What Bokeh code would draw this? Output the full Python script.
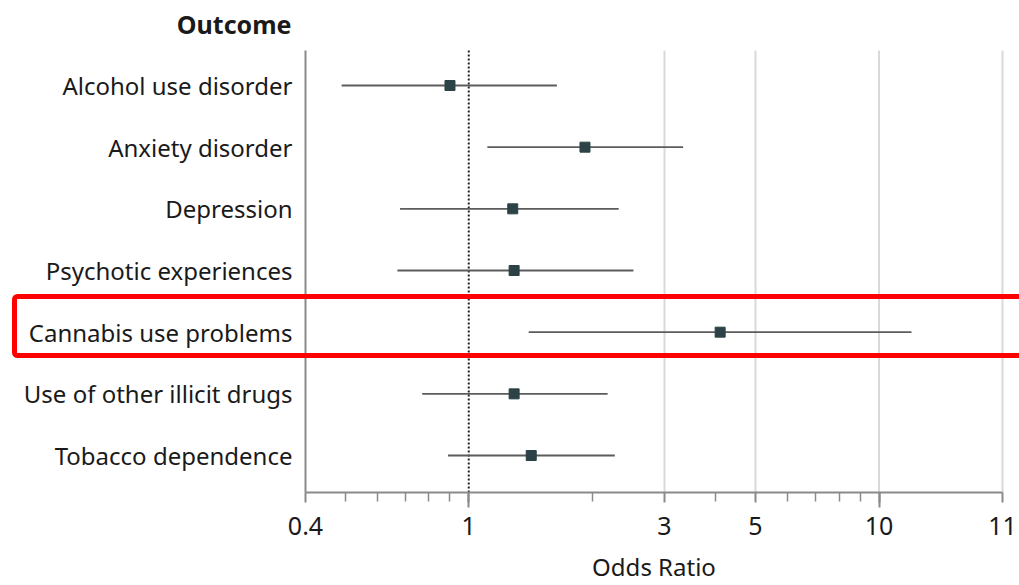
import math
from bokeh.plotting import figure
from bokeh.models import (Range1d, FixedTicker, BoxAnnotation, ColumnDataSource,
                          Label, LogAxis)
from bokeh.embed import file_html
from bokeh.resources import INLINE

# Outcomes, top to bottom, with odds ratios and 95% confidence limits
outcomes = [
    "Alcohol use disorder",
    "Anxiety disorder",
    "Depression",
    "Psychotic experiences",
    "Cannabis use problems",
    "Use of other illicit drugs",
    "Tobacco dependence",
]
odds_ratio = [0.90, 1.92, 1.28, 1.29, 4.10, 1.29, 1.42]
ci_low = [0.49, 1.11, 0.68, 0.67, 1.40, 0.77, 0.89]
ci_high = [1.64, 3.33, 2.32, 2.52, 12.0, 2.18, 2.27]

# Log-scale axis ticks
major_ticks = [0.4, 1, 3, 5, 10, 20]
major_labels = ["0.4", "1", "3", "5", "10", "11"]
long_ticks = [1, 10]
minor_ticks = [0.5, 0.6, 0.7, 0.8, 0.9, 2, 4, 6, 7, 8, 9]
grid_ticks = [3, 5, 10, 20]

# page geometry (pixels)
W, H = 1019, 585
AXIS_LEFT_PX, AXIS_RIGHT_PX = 305, 1002
AXIS_TOP_PX, AXIS_BOTTOM_PX = 50, 492
FIRST_ROW_PX, ROW_STEP_PX = 85, 61.67

FONT = "Noto Sans"
TEXT = "#1a1a1a"
AXIS = "#8a8a8a"

# The frame covers the whole canvas; axes are pinned inside it so the
# highlight frame and headings can sit in the label column.
lo_v, hi_v = major_ticks[0], major_ticks[-1]
px_per_decade = (AXIS_RIGHT_PX - AXIS_LEFT_PX) / math.log10(hi_v / lo_v)
x_start = lo_v * 10 ** (-AXIS_LEFT_PX / px_per_decade)
x_end = hi_v * 10 ** ((W - AXIS_RIGHT_PX) / px_per_decade)

def row_at(px):
    return 1 + (px - FIRST_ROW_PX) / ROW_STEP_PX

y_top, y_bottom = row_at(AXIS_TOP_PX), row_at(AXIS_BOTTOM_PX)

rows = list(range(1, len(outcomes) + 1))
src = ColumnDataSource(dict(y=rows, name=outcomes, or_=odds_ratio, lo=ci_low, hi=ci_high))

p = figure(
    width=W, height=H,
    x_axis_type="log",
    x_range=Range1d(x_start, x_end),
    y_range=Range1d(row_at(H), row_at(0)),
    min_border=0,
    output_backend="svg", toolbar_location=None,
)
p.outline_line_color = None
p.background_fill_color = "white"
p.xgrid.visible = False
p.ygrid.visible = False

# vertical grid lines, bounded to the axis box
p.segment(x0=grid_ticks, x1=grid_ticks, y0=[y_top] * len(grid_ticks),
          y1=[y_bottom] * len(grid_ticks), line_color="#d9d9d9", line_width=2)

# reference line at OR = 1
p.segment(x0=[1], x1=[1], y0=[y_top], y1=[y_bottom],
          line_color="#222222", line_width=2, line_dash="2 2")

# confidence intervals and point estimates
p.segment(x0="lo", x1="hi", y0="y", y1="y", source=src,
          line_color="#5c5c5c", line_width=1.8)
p.scatter(x="or_", y="y", source=src, marker="square", size=10,
          fill_color="#2c4246", line_color="#2c4246")

# x axis
xa = p.xaxis[0]
xa.fixed_location = y_bottom
xa.bounds = (lo_v, hi_v)
xa.ticker = FixedTicker(ticks=major_ticks, minor_ticks=minor_ticks)
xa.major_label_overrides = {t: l for t, l in zip(major_ticks, major_labels)}
xa.axis_line_color = AXIS
xa.axis_line_width = 2
xa.major_tick_line_color = AXIS
xa.major_tick_line_width = 2
xa.major_tick_in = 0
xa.major_tick_out = 10
xa.minor_tick_line_color = AXIS
xa.minor_tick_line_width = 1.5
xa.minor_tick_in = 0
xa.minor_tick_out = 9
xa.major_label_text_font = FONT
xa.major_label_text_font_size = "25px"
xa.major_label_text_color = TEXT
xa.major_label_standoff = 14

# longer ticks at 1 and 10
xa_long = LogAxis(fixed_location=y_bottom, bounds=(lo_v, hi_v),
                  ticker=FixedTicker(ticks=long_ticks, minor_ticks=[]),
                  axis_line_color=None, major_label_text_alpha=0,
                  major_tick_line_color=AXIS, major_tick_line_width=2,
                  major_tick_in=0, major_tick_out=15, minor_tick_line_color=None)
p.add_layout(xa_long, "below")

# y axis: outcome names, pinned at the left end of the odds-ratio axis
ya = p.yaxis[0]
ya.fixed_location = lo_v
ya.bounds = (y_top, y_bottom)
ya.ticker = FixedTicker(ticks=rows)
ya.major_label_overrides = {r: n for r, n in zip(rows, outcomes)}
ya.axis_line_color = AXIS
ya.axis_line_width = 2
ya.major_tick_line_color = None
ya.major_tick_out = 0
ya.major_tick_in = 0
ya.minor_tick_line_color = None
ya.major_label_standoff = 13
ya.major_label_text_font = FONT
ya.major_label_text_font_size = "24px"
ya.major_label_text_color = TEXT

# column heading and axis title
p.add_layout(Label(x=AXIS_LEFT_PX - 14, y=23, x_units="canvas", y_units="canvas",
                   text="Outcome", text_align="right", text_baseline="middle",
                   text_font=FONT, text_font_size="25px", text_font_style="bold",
                   text_color=TEXT))
p.add_layout(Label(x=math.sqrt(lo_v * hi_v), y=566, y_units="canvas",
                   text="Odds Ratio", text_align="center", text_baseline="middle",
                   text_font=FONT, text_font_size="24px", text_color=TEXT))

# highlight frame around the cannabis row
p.add_layout(BoxAnnotation(left=14, right=W + 30, top=296, bottom=355,
                           left_units="canvas", right_units="canvas",
                           top_units="canvas", bottom_units="canvas",
                           fill_alpha=0, line_color="#ff0000", line_alpha=1,
                           line_width=5, border_radius=3))

open("out.html", "w").write(file_html(p, INLINE))
